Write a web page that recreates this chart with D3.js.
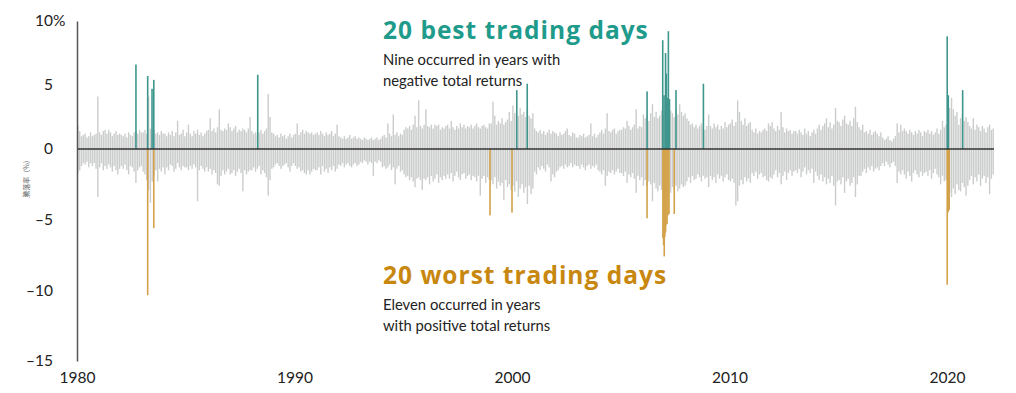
<!DOCTYPE html>
<html>
<head>
<meta charset="utf-8">
<script src="https://cdn.jsdelivr.net/npm/d3@7"></script>
<style>
  body { margin: 0; background: #fff; }
  text { font-family: Lato, "Noto Sans", sans-serif; }
</style>
</head>
<body>
<svg id="chart" width="1016" height="393"></svg>
<script>
// biggest daily gain in each month, %  (one line per year, Jan 1980 ->)
var monthlyHigh = [
  1.8,1.4,1.0,1.1,1.2,0.9,1.0,1.3,1.0,1.1,1.2,4.1,
  1.3,1.1,1.4,1.5,1.2,1.5,1.3,1.0,1.2,1.4,1.1,1.2,
  1.1,1.0,1.2,0.9,1.3,1.1,1.0,1.3,1.4,1.2,1.5,1.3,
  1.3,1.5,1.2,4.1,1.6,1.4,1.5,1.2,1.3,1.1,1.4,1.2,
  1.2,1.0,1.3,1.1,1.4,1.0,1.3,2.2,1.1,1.2,1.5,1.0,
  1.3,1.9,1.2,1.0,1.4,1.2,1.5,1.1,1.3,1.0,1.2,1.4,
  1.5,2.4,1.4,1.6,1.3,1.7,3.1,1.5,1.4,1.6,1.5,2.0,
  1.7,1.4,1.6,1.8,1.3,1.5,1.4,1.6,1.5,1.3,1.6,2.5,
  1.4,1.2,1.3,1.1,1.3,1.5,1.2,1.4,1.6,4.3,2.5,1.3,
  1.2,1.0,1.1,0.9,1.2,1.0,1.1,0.8,1.0,1.2,0.9,1.1,
  1.2,2.0,1.1,1.3,1.5,1.2,1.4,1.3,1.2,1.3,1.1,1.2,
  1.3,1.1,1.4,1.2,1.0,1.3,1.1,1.2,1.4,1.0,1.2,1.9,
  1.0,0.9,0.8,1.0,0.8,0.9,1.1,0.8,0.9,1.0,0.8,0.9,
  0.8,0.7,0.9,0.8,0.7,0.8,0.9,0.7,0.8,0.9,0.7,0.8,
  1.0,1.1,0.9,2.0,1.2,1.0,2.7,1.1,1.3,1.0,1.2,1.1,
  1.5,1.7,1.6,1.8,1.5,1.9,2.6,1.7,3.8,1.8,1.6,1.9,
  3.1,1.8,1.7,1.9,1.6,1.9,1.8,1.9,1.5,1.7,1.6,1.8,
  1.9,1.6,2.2,1.7,1.5,1.8,1.6,2.0,1.7,1.9,1.6,1.8,
  1.7,1.9,1.6,1.8,2.0,1.7,1.6,1.8,1.9,1.7,1.6,2.0,
  2.0,3.7,2.6,1.9,2.2,2.0,2.4,1.9,2.1,2.3,2.9,2.2,
  3.4,2.8,3.0,2.6,3.2,2.7,2.9,2.5,3.1,2.6,2.4,2.8,
  1.6,1.4,1.3,1.5,1.2,1.4,1.1,1.3,1.5,1.2,1.4,1.3,
  1.2,1.0,1.3,1.1,1.2,1.4,1.6,1.1,1.0,1.3,1.2,0.9,
  0.9,1.1,1.0,1.2,0.9,1.0,1.1,2.0,1.0,1.2,0.9,1.1,
  1.3,1.5,1.2,1.6,2.8,1.4,1.3,1.5,1.6,1.2,1.4,1.5,
  1.5,1.7,1.6,2.2,1.8,1.5,1.7,1.9,3.1,1.6,1.8,1.7,
  2.7,2.4,2.6,2.2,2.8,3.5,2.5,2.9,2.4,2.6,3.0,2.7,
  2.9,3.2,2.6,3.0,2.8,2.5,3.1,2.7,3.5,2.9,2.6,2.8,
  2.4,2.2,1.9,2.0,1.7,1.9,1.6,1.8,2.0,1.7,1.5,1.8,
  2.7,1.8,1.6,2.0,1.7,1.9,1.5,1.8,1.6,2.1,1.7,1.9,
  2.0,2.3,1.8,2.1,3.8,2.9,2.2,1.9,2.4,1.8,2.0,2.1,
  1.5,1.3,1.6,1.2,1.4,1.3,1.5,1.6,1.4,2.0,1.8,2.1,
  1.6,1.4,1.8,1.5,2.9,1.7,1.3,1.6,1.4,1.5,1.2,1.4,
  1.4,1.2,1.5,1.3,1.1,1.6,1.2,1.4,1.0,1.3,1.5,1.2,
  1.6,1.9,1.5,1.8,2.0,2.4,1.7,2.1,1.6,1.9,3.2,2.2,
  2.1,1.8,2.3,2.6,2.0,1.9,2.2,1.8,2.4,3.3,2.1,1.7,
  1.5,1.9,1.3,1.4,1.2,1.5,1.1,1.3,1.4,1.2,1.0,1.3,
  0.9,0.7,0.8,1.0,0.7,0.6,0.8,1.0,2.0,1.3,1.9,1.4,
  1.6,1.4,1.2,1.5,1.3,1.1,1.4,1.2,1.5,1.3,1.0,1.4,
  1.3,1.5,1.2,1.4,1.1,1.3,1.6,1.2,1.5,2.2,1.7,1.9,
  2.8,3.2,4.0,3.1,2.6,2.9,1.9,2.4,2.7,2.2,2.5,2.1,
  1.8,1.6,2.4,1.5,1.9,1.7,1.4,1.8,1.6,1.3,1.7,1.9,
  1.5,1.6
];

// biggest daily loss in each month, % (same months)
var monthlyLow = [
  -1.7,-1.5,-1.2,-1.0,-1.1,-0.9,-1.3,-1.0,-1.2,-1.0,-1.4,-3.4,
  -1.3,-1.0,-1.5,-1.2,-1.4,-1.1,-1.3,-1.6,-1.2,-1.5,-1.8,-1.4,
  -1.2,-1.4,-1.1,-1.5,-1.8,-1.2,-1.3,-1.6,-2.4,-1.5,-1.3,-1.2,
  -1.6,-1.8,-2.2,-2.9,-3.8,-2.3,-1.9,-1.5,-2.3,-1.4,-1.6,-1.3,
  -1.8,-1.3,-1.5,-1.1,-1.2,-1.6,-1.4,-1.0,-1.3,-1.5,-1.2,-1.3,
  -1.3,-1.5,-1.2,-1.4,-1.1,-1.3,-3.7,-1.5,-1.2,-1.4,-1.6,-1.3,
  -1.6,-1.4,-1.8,-1.5,-1.7,-2.5,-2.6,-1.9,-1.5,-1.8,-1.6,-1.4,
  -1.8,-1.7,-1.5,-1.9,-1.6,-1.4,-1.7,-3.0,-1.5,-1.8,-1.6,-1.5,
  -1.5,-1.3,-1.6,-1.4,-1.2,-1.8,-1.5,-1.7,-2.0,-3.3,-2.2,-1.4,
  -1.3,-1.1,-1.0,-1.2,-1.4,-1.2,-1.1,-1.0,-1.3,-1.6,-1.2,-1.0,
  -1.2,-1.4,-1.3,-1.6,-1.5,-1.7,-1.8,-1.5,-1.8,-1.6,-1.4,-1.5,
  -1.5,-1.3,-1.8,-1.2,-1.6,-1.4,-1.7,-1.3,-1.5,-1.2,-1.6,-1.4,
  -1.1,-1.2,-1.0,-1.3,-1.1,-1.0,-1.2,-1.3,-1.1,-1.0,-1.2,-1.1,
  -0.9,-1.0,-0.8,-0.9,-1.1,-0.9,-1.0,-1.9,-0.9,-1.0,-0.8,-0.9,
  -1.3,-1.2,-1.4,-1.3,-1.1,-1.5,-1.3,-2.5,-1.4,-1.2,-1.6,-1.5,
  -1.8,-2.0,-1.9,-2.2,-2.0,-2.3,-2.7,-2.1,-2.0,-2.2,-2.9,-2.1,
  -2.2,-2.0,-2.5,-1.9,-2.3,-2.1,-1.8,-2.4,-2.0,-2.2,-1.9,-2.1,
  -1.8,-2.1,-1.7,-2.3,-1.9,-1.6,-2.0,-2.2,-1.8,-1.7,-2.1,-1.9,
  -1.8,-2.2,-1.9,-2.0,-2.3,-1.9,-3.3,-2.1,-1.9,-2.4,-2.0,-2.2,
  -2.2,-2.5,-2.0,-2.8,-2.3,-2.6,-2.4,-3.6,-2.2,-2.7,-2.5,-2.9,
  -2.6,-3.0,-2.3,-3.4,-2.8,-2.5,-3.1,-2.7,-3.9,-2.6,-3.2,-2.8,
  -1.6,-1.8,-1.3,-1.5,-1.2,-1.4,-1.6,-1.1,-1.3,-2.3,-1.8,-2.0,
  -1.6,-1.5,-1.3,-1.2,-1.4,-1.1,-1.3,-1.2,-1.0,-1.3,-1.1,-1.2,
  -1.2,-1.4,-1.1,-1.3,-1.5,-1.2,-1.1,-1.4,-1.2,-1.3,-1.1,-1.5,
  -1.6,-1.8,-1.5,-2.6,-1.9,-1.6,-1.7,-1.5,-1.8,-1.6,-1.4,-1.7,
  -1.7,-1.9,-1.6,-2.4,-1.8,-2.0,-1.7,-2.1,-3.1,-1.9,-2.2,-2.0,
  -2.6,-2.2,-2.6,-2.3,-2.5,-3.7,-2.4,-2.8,-3.0,-2.6,-2.9,-2.7,
  -3.2,-3.0,-2.8,-3.1,-2.7,-2.9,-2.6,-3.0,-2.8,-2.5,-2.7,-2.6,
  -2.3,-2.0,-2.4,-1.9,-2.2,-2.1,-1.8,-2.0,-2.3,-1.9,-2.1,-2.0,
  -2.7,-1.9,-2.2,-2.0,-2.4,-1.8,-2.1,-1.9,-2.3,-2.0,-1.8,-2.2,
  -2.3,-2.1,-2.4,-4.0,-3.7,-2.6,-2.2,-2.5,-2.0,-2.3,-2.1,-2.4,
  -1.7,-1.9,-1.6,-2.1,-1.8,-1.7,-2.0,-1.9,-2.2,-2.3,-2.0,-2.1,
  -1.8,-1.5,-2.0,-1.7,-2.5,-1.9,-1.6,-2.2,-1.7,-1.5,-1.9,-1.6,
  -1.5,-1.7,-1.4,-2.0,-1.6,-1.3,-1.8,-1.5,-1.7,-1.4,-2.4,-1.6,
  -1.9,-2.2,-1.8,-2.3,-2.0,-2.5,-2.1,-2.4,-1.9,-2.6,-4.0,-2.3,
  -2.2,-2.5,-2.0,-3.1,-2.3,-2.1,-2.6,-2.4,-2.0,-3.4,-2.5,-1.9,
  -1.9,-1.6,-1.4,-1.7,-1.3,-1.5,-1.2,-1.6,-1.4,-1.3,-1.5,-1.2,
  -1.0,-1.2,-0.9,-1.1,-1.3,-1.0,-0.9,-1.2,-2.4,-1.6,-1.8,-1.5,
  -1.8,-2.1,-1.6,-1.9,-2.3,-1.7,-1.5,-1.8,-2.0,-1.6,-1.9,-1.7,
  -1.6,-1.9,-1.5,-2.1,-1.7,-1.4,-1.8,-2.0,-2.5,-1.9,-2.3,-2.2,
  -2.6,-3.1,-3.4,-2.8,-3.2,-2.5,-2.9,-3.0,-2.4,-2.7,-3.3,-2.6,
  -2.2,-1.9,-2.5,-2.0,-2.3,-1.8,-2.6,-2.1,-1.9,-2.4,-2.0,-3.2,
  -2.1,-1.8
];

// 20 best days (decimal year, daily return %)
var bestDates   = [1982.71, 1983.25, 1983.45, 1983.53, 1988.31, 2000.22, 2000.70, 2006.21, 2006.93, 2006.99,
                   2007.06, 2007.10, 2007.14, 2007.19, 2007.24, 2007.54, 2008.80, 2020.01, 2020.06, 2020.72];
var bestReturns = [6.6, 5.7, 4.7, 5.4, 5.8, 4.6, 5.1, 4.5, 8.5, 4.2,
                   7.5, 5.9, 4.0, 9.2, 3.9, 4.6, 5.1, 8.8, 4.2, 4.6];

// 20 worst days
var worstDates   = [1983.25, 1983.53, 1998.99, 2000.00, 2006.21, 2006.94, 2006.97, 2007.00, 2007.03, 2007.06,
                    2007.08, 2007.13, 2007.17, 2007.22, 2007.46, 2020.01, 2020.04, 2020.06, 2020.08, 2020.10];
var worstReturns = [-10.35, -5.6, -4.7, -4.5, -4.9, -6.3, -6.8, -7.6, -6.2, -5.9,
                    -5.4, -5.3, -4.7, -4.6, -4.6, -9.6, -4.5, -4.4, -4.2, -4.3];

var yearTicks = [1980, 1990, 2000, 2010, 2020];
var returnTicks = [-15, -10, -5, 0, 5, 10];

var svg = d3.select("#chart");

var x = d3.scaleLinear().domain([1980, 2022]).range([77, 990.5]);
var y = d3.scaleLinear().domain([-15, 0, 10]).range([361, 149, 21]);

var months = monthlyHigh.map(function(h, i) {
  return { t: 1980 + (i + 0.5) / 12, hi: h, lo: monthlyLow[i] };
});

// grey daily noise
svg.append("g").selectAll("rect")
  .data(months)
  .enter()
  .append("rect")
  .attr("x", function(d) { return x(d.t) - 0.7; })
  .attr("y", function(d) { return y(d.hi); })
  .attr("width", 1.4)
  .attr("height", function(d) { return y(d.lo) - y(d.hi); })
  .attr("fill", "#cbcccc");

var best = bestDates.map(function(t, i) { return { t: t, v: bestReturns[i] }; });
var worst = worstDates.map(function(t, i) { return { t: t, v: worstReturns[i] }; });

svg.append("g").selectAll("rect")
  .data(best)
  .enter()
  .append("rect")
  .attr("x", function(d) { return x(d.t) - 0.8; })
  .attr("y", function(d) { return y(d.v); })
  .attr("width", 1.6)
  .attr("height", function(d) { return y(0) - y(d.v); })
  .attr("fill", "#3f968d");

svg.append("g").selectAll("rect")
  .data(worst)
  .enter()
  .append("rect")
  .attr("x", function(d) { return x(d.t) - 0.8; })
  .attr("y", y(0))
  .attr("width", 1.6)
  .attr("height", function(d) { return y(d.v) - y(0); })
  .attr("fill", "#d3a24a");

// zero line
svg.append("line")
  .attr("x1", x(1980)).attr("x2", x(2022.16))
  .attr("y1", y(0)).attr("y2", y(0))
  .attr("stroke", "#333")
  .attr("stroke-width", 1.5);

// y axis
var yAxis = svg.append("g")
  .attr("transform", "translate(" + x(1980) + ",0)")
  .call(d3.axisLeft(y)
    .tickValues(returnTicks)
    .tickSize(0)
    .tickPadding(24)
    .tickFormat(function(d) { return d < 0 ? "\u2013" + Math.abs(d) : d; }));
yAxis.select(".domain").attr("stroke", "#555").attr("stroke-width", 1.5);
yAxis.selectAll("text")
  .attr("font-size", 15.5)
  .attr("fill", "#222")
  .style("font-family", "Lato, 'Noto Sans', sans-serif");
yAxis.append("text")
  .attr("x", -24)
  .attr("y", y(10))
  .attr("dy", "0.32em")
  .attr("text-anchor", "start")
  .attr("font-size", 15.5)
  .attr("fill", "#222")
  .text("%");

// x axis
var xAxis = svg.append("g")
  .attr("transform", "translate(0," + y(-15) + ")")
  .call(d3.axisBottom(x)
    .tickValues(yearTicks)
    .tickSize(0)
    .tickPadding(11)
    .tickFormat(d3.format("d")));
xAxis.select(".domain").remove();
xAxis.selectAll("text")
  .attr("font-size", 15.5)
  .attr("fill", "#222")
  .style("font-family", "Lato, 'Noto Sans', sans-serif");

// tiny rotated axis title
svg.append("text")
  .attr("transform", "translate(29,177) rotate(-90)")
  .attr("text-anchor", "middle")
  .attr("font-size", 7)
  .attr("fill", "#666")
  .style("font-family", "'Noto Sans CJK JP', sans-serif")
  .text("騰落率（%）");

// annotations
function note(yTop, title, color, lines) {
  svg.append("text")
    .attr("x", 383).attr("y", yTop)
    .attr("font-size", 24.5)
    .attr("font-weight", 700)
    .attr("letter-spacing", 1)
    .attr("fill", color)
    .style("font-family", "'Open Sans', 'Noto Sans', sans-serif")
    .text(title);
  lines.forEach(function(s, i) {
    svg.append("text")
      .attr("x", 383).attr("y", yTop + 26 + i * 20.5)
      .attr("font-size", 14.8)
      .attr("fill", "#222")
      .text(s);
  });
}
note(39, "20 best trading days", "#1f9b8c", ["Nine occurred in years with", "negative total returns"]);
note(284, "20 worst trading days", "#c8870f", ["Eleven occurred in years", "with positive total returns"]);
</script>
</body>
</html>
